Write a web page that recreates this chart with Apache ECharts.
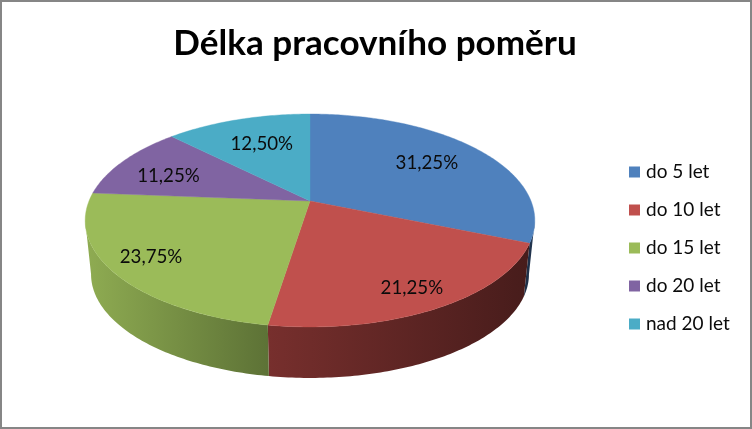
<!DOCTYPE html>
<html>
<head>
<meta charset="utf-8">
<style>html,body{margin:0;padding:0;background:#fff}#c{width:752px;height:429px}</style>
<script src="https://cdn.jsdelivr.net/npm/echarts@6/dist/echarts.min.js"></script>
</head>
<body>
<div id="c"></div>
<script>
const titleText = 'Délka pracovního poměru';
const categories = ['do 5 let', 'do 10 let', 'do 15 let', 'do 20 let', 'nad 20 let'];
const values = [31.25, 21.25, 23.75, 11.25, 12.5];
const colors = ['#4F81BD', '#C0504D', '#9BBB59', '#8064A2', '#4BACC6'];
const wallFrom = ['#1F3048', '#772F2D', '#8FAC52', '#4C3C61', '#2D6776'];
const wallTo = ['#283F5E', '#471C1B', '#5D7236', '#3A2E4A', '#224E59'];
const labelRadius = [0.68, 0.82, 0.83, 0.74, 0.66];
const labelShift = [[0, -2], [0, 2], [0, -2], [-1, 5], [2, -1]];

const FONT = 'Lato, "Open Sans", sans-serif';
const CX = 310, APEX_Y = 201, SX = 221, SY = 102.9, K = 0.183;
const DROP_SCALE = 0.974, VANISH_Y = 2288;
const total = values.reduce((a, b) => a + b, 0);
// Rim angles at which the disc's outline is widest: only the arc between them shows a wall.
const WALL_START = Math.acos(-K), WALL_END = Math.PI * 2 - Math.acos(-K);

function project(angle, r) {
  const u = Math.sin(angle) * r, v = -Math.cos(angle) * r;
  const d = 1 - K * v;
  return [CX + SX * u / d, APEX_Y + SY * v / d];
}
function drop(p) {
  return [CX + (p[0] - CX) * DROP_SCALE, VANISH_Y + (p[1] - VANISH_Y) * DROP_SCALE];
}
function sliceAngles(i) {
  let s = 0;
  for (let j = 0; j < i; j++) s += values[j];
  return [s / total * Math.PI * 2, (s + values[i]) / total * Math.PI * 2];
}
function arc(a0, a1) {
  const n = Math.max(12, Math.ceil((a1 - a0) / 0.015));
  const pts = [];
  for (let t = 0; t <= n; t++) pts.push(project(a0 + (a1 - a0) * t / n, 1));
  return pts;
}

const wallSeries = categories.map((name, i) => ({
  type: 'custom', name: 'wall ' + name, coordinateSystem: 'none', silent: true, z: 1,
  data: [values[i]],
  renderItem() {
    const [s0, s1] = sliceAngles(i);
    const a0 = Math.max(s0, WALL_START), a1 = Math.min(s1, WALL_END);
    if (a1 <= a0) return null;
    const top = arc(a0, a1);
    const bottom = top.map(drop).reverse();
    const xs = top.map(p => p[0]);
    const minX = Math.min(...xs), maxX = Math.max(...xs);
    return {
      type: 'polygon',
      shape: { points: top.concat(bottom) },
      style: {
        fill: new echarts.graphic.LinearGradient(minX, 0, maxX, 0, [
          { offset: 0, color: wallFrom[i] }, { offset: 1, color: wallTo[i] }
        ], true)
      }
    };
  }
}));

const topSeries = categories.map((name, i) => ({
  type: 'custom', name, coordinateSystem: 'none', silent: true, z: 2,
  itemStyle: { color: colors[i] },
  data: [values[i]],
  renderItem() {
    const [a0, a1] = sliceAngles(i);
    return {
      type: 'polygon',
      shape: { points: [[CX, APEX_Y]].concat(arc(a0, a1)) },
      style: { fill: colors[i], stroke: colors[i], lineWidth: 0.4 }
    };
  }
}));

const labelSeries = {
  type: 'custom', name: 'labels', coordinateSystem: 'none', silent: true, z: 3,
  data: values,
  renderItem(params, api) {
    const i = params.dataIndex;
    const [a0, a1] = sliceAngles(i);
    const p = project((a0 + a1) / 2, labelRadius[i]);
    return {
      type: 'text',
      x: p[0] + labelShift[i][0], y: p[1] + labelShift[i][1],
      style: {
        text: api.value(0).toFixed(2).replace('.', ',') + '%',
        font: '18.7px ' + FONT, fill: '#0b0b0b', align: 'center', verticalAlign: 'middle'
      }
    };
  }
};

const chart = echarts.init(document.getElementById('c'), null, { renderer: 'canvas' });
chart.setOption({
  animation: false,
  backgroundColor: '#fff',
  title: {
    text: titleText, left: 370, top: 21, textAlign: 'center',
    textStyle: { fontFamily: FONT, fontWeight: 'bold', fontSize: 35.1, color: '#000' }
  },
  legend: {
    data: categories, orient: 'vertical', left: 629, top: 162.5,
    icon: 'rect', itemWidth: 11, itemHeight: 11, itemGap: 19, selectedMode: false, padding: 0,
    textStyle: { fontFamily: FONT, fontSize: 19, color: '#0b0b0b', padding: [0, 0, 0, 1], lineHeight: 18 }
  },
  graphic: [{
    type: 'rect', silent: true, z: 100,
    shape: { x: 1, y: 1, width: 750, height: 427 },
    style: { fill: 'none', stroke: '#868686', lineWidth: 2 }
  }],
  series: [...wallSeries, ...topSeries, labelSeries]
});
</script>
</body>
</html>
